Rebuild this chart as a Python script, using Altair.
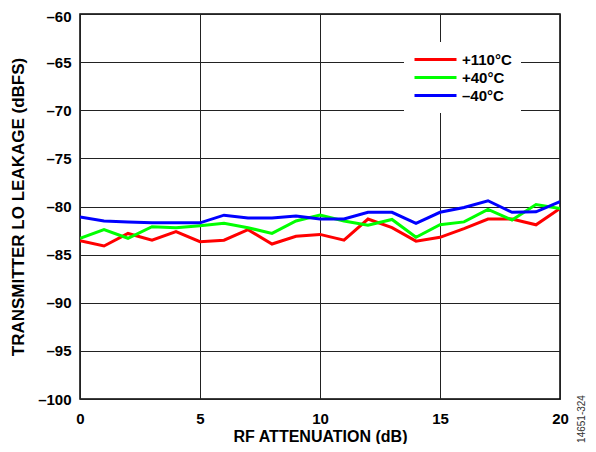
import altair as alt
import pandas as pd

atten = list(range(0, 21))
t110 = [-83.55, -84.1, -82.8, -83.5, -82.6, -83.65, -83.5, -82.4, -83.9, -83.1, -82.9,
        -83.5, -81.3, -82.2, -83.6, -83.2, -82.3, -81.3, -81.3, -81.9, -80.2]
t40 = [-83.3, -82.4, -83.3, -82.1, -82.2, -82.0, -81.75, -82.2, -82.8, -81.5, -80.9,
       -81.5, -81.95, -81.35, -83.2, -81.9, -81.6, -80.3, -81.4, -79.8, -80.2]
tm40 = [-81.1, -81.5, -81.6, -81.7, -81.7, -81.7, -80.9, -81.2, -81.2, -81.0, -81.3,
        -81.3, -80.6, -80.6, -81.75, -80.6, -80.1, -79.4, -80.6, -80.55, -79.5]

series_names = ["+110°C", "+40°C", "–40°C"]
series_colors = ["#FF0000", "#00FF00", "#0000FF"]
x_ticks = [0, 5, 10, 15, 20]
y_ticks = list(range(-100, -59, 5))

rows = []
for name, vals in zip(series_names, [t110, t40, tm40]):
    for a, v in zip(atten, vals):
        rows.append({"atten": a, "leak": v, "series": name})
df = pd.DataFrame(rows)

FONT = "Liberation Sans"

lines = alt.Chart(df).mark_line(strokeWidth=3, clip=True).encode(
    x=alt.X("atten:Q", scale=alt.Scale(domain=[0, 20], nice=False),
            axis=alt.Axis(values=x_ticks, title="RF ATTENUATION (dB)",
                          titlePadding=2, labelPadding=12, labelFlush=False,
                          titleFontSize=16)),
    y=alt.Y("leak:Q", scale=alt.Scale(domain=[-100, -60], nice=False),
            axis=alt.Axis(values=y_ticks,
                          title="TRANSMITTER LO LEAKAGE (dBFS)",
                          labelExpr="datum.value < 0 ? '–' + abs(datum.value) : datum.label",
                          labelOffset={"condition": {"test": "datum.value == -60", "value": 2.5},
                                       "value": 0},
                          titlePadding=10, labelPadding=9, labelFlush=False,
                          titleFontSize=17)),
    color=alt.Color("series:N",
                    scale=alt.Scale(domain=series_names, range=series_colors),
                    sort=series_names,
                    legend=alt.Legend(title=None, orient="none", legendX=324, legendY=28,
                                      symbolType="M-1,0H5", symbolSize=196,
                                      symbolStrokeWidth=3, fillColor="white",
                                      padding=9, labelFont=FONT, labelFontSize=15,
                                      labelFontWeight="bold", labelColor="black",
                                      labelOffset=32, rowPadding=1)),
)

note = alt.Chart(pd.DataFrame({"t": ["14651-324"]})).mark_text(
    angle=270, font=FONT, fontSize=10, color="#333333", align="center", baseline="middle"
).encode(x=alt.value(502), y=alt.value(405), text="t:N")

chart = alt.layer(lines, note).properties(
    width=480, height=385,
    autosize=alt.AutoSizeParams(type="none"),
    padding={"left": 72, "top": 6, "right": 28, "bottom": 45},
).configure_view(stroke="black", strokeWidth=1.5).configure_axis(
    grid=True, gridColor="#222222", gridWidth=1, gridOpacity=1,
    domain=False, ticks=False,
    labelFont=FONT, labelFontSize=15, labelFontWeight="bold", labelColor="black",
    titleFont=FONT, titleFontWeight="bold", titleColor="black",
)

chart.save("out.html", embed_options={"renderer": "svg", "actions": False})
